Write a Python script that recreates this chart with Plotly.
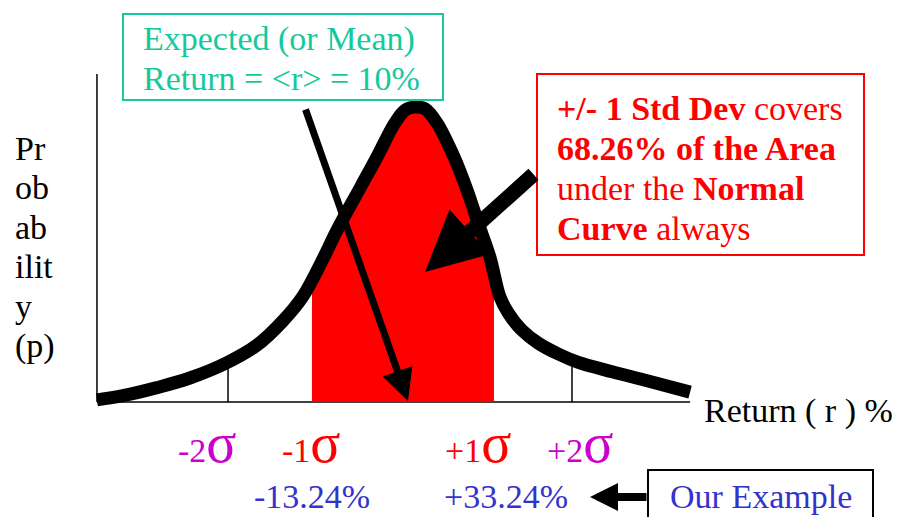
import plotly.graph_objects as go

# hand-drawn curve (return in %, relative probability)
returns = [-71.9, -64.9, -55.7, -46.8, -36.8, -28.6, -21.6, -16.2, -10.8, -7.0, -0.5,
           3.8, 8.6, 11.4, 14.1, 16.8, 20.0, 24.6, 28.1, 31.1, 34.3, 37.0, 39.3,
           42.9, 47.4, 52.8, 58.2, 67.6, 76.8, 88.4]
prob = [0.007, 0.021, 0.048, 0.080, 0.131, 0.19, 0.271, 0.353, 0.477, 0.573, 0.72,
        0.817, 0.93, 0.973, 0.983, 0.977, 0.93, 0.817, 0.707, 0.597, 0.483, 0.351, 0.296,
        0.24, 0.196, 0.16, 0.132, 0.10, 0.071, 0.033]

# red area, +/- 1 std dev
shade_x = [-13.8, -10.8, -7.0, -0.5, 3.8, 8.6, 11.4, 14.1, 16.8, 20.0, 24.6, 28.1, 31.1, 34.3, 35.4]
shade_y = [0.44, 0.477, 0.573, 0.72, 0.817, 0.93, 0.973, 0.983, 0.977, 0.93, 0.817, 0.707, 0.597, 0.483, 0.43]

mean_ret = 10
std_dev = 23.24
sigma_labels = ['-2', '-1', '+1', '+2']
sigma_x = [-36.48, -13.24, 33.24, 56.48]
sigma_colors = ['#CC00CC', '#FF0000', '#FF0000', '#CC00CC']
sigma_shift = [-21, -3, -8, 8]
tick_x = [-36.48, 56.48]
tick_top = [0.12, 0.13]
example_labels = ['-13.24%', '+33.24%']
example_x = [-13.24, 33.24]
example_shift = [-2, 20]

TEAL = '#14C99C'
RED = '#FF0000'
BLUE = '#3333CC'
FONT = 'Liberation Serif, Times New Roman, serif'

# plot area in pixels
L, T, W, H = 80, 60, 640, 360
x_lo, x_hi = mean_ret - (400 - L) / 3.7, mean_ret + (L + W - 400) / 3.7
y_lo, y_hi = -(T + H - 402) / 300, (402 - T) / 300
axis_left, axis_right, axis_top = -71.9, 88.4, 1.093


def px(x):
    return (x - L) / W


def py(y):
    return (T + H - y) / H


fig = go.Figure()

fig.add_trace(go.Scatter(x=shade_x, y=shade_y, mode='lines', line=dict(width=0, shape='spline'),
                         fill='tozeroy', fillcolor=RED, hoverinfo='skip'))
for tx, ty in zip(tick_x, tick_top):
    fig.add_trace(go.Scatter(x=[tx, tx], y=[0, ty], mode='lines', line=dict(color='black', width=1.5)))
fig.add_trace(go.Scatter(x=returns, y=prob, mode='lines',
                         line=dict(color='black', width=13, shape='spline', smoothing=1)))

# axes
fig.add_shape(type='line', x0=axis_left, x1=axis_left, y0=0, y1=axis_top, layer='below',
              line=dict(color='black', width=1.5))
fig.add_shape(type='line', x0=axis_left, x1=axis_right, y0=0, y1=0, layer='below',
              line=dict(color='black', width=1.5))


def add_text(text, x, baseline, color='black', size=34, anchor='left', xref='paper', xshift=0, box=None):
    box = box or size
    fig.add_annotation(text=text, x=px(x) if xref == 'paper' else x, xref=xref,
                       y=py(baseline - 0.3375 * box), yref='paper', xanchor=anchor, yanchor='middle',
                       showarrow=False, borderpad=0, borderwidth=0, xshift=xshift,
                       font=dict(family=FONT, size=size, color=color))


# y axis title
for word, b in zip(['Pr', 'ob', 'ab', 'ilit', 'y', '(p)'], [160, 199, 239, 278, 318, 357]):
    add_text(word, 15, b)
add_text('Return ( r ) %', 704, 422)

# sigma labels and our example
for lab, sx, col, sh in zip(sigma_labels, sigma_x, sigma_colors, sigma_shift):
    add_text(lab + '<span style="font-size:56px">σ</span>', sx, 462, color=col, anchor='center',
             xref='x', xshift=sh, box=56)
for lab, ex, sh in zip(example_labels, example_x, example_shift):
    add_text(lab, ex, 508, color=BLUE, anchor='center', xref='x', xshift=sh)

# text boxes
add_text('Expected (or Mean)', 143, 50, color=TEAL)
add_text('Return = &lt;r&gt; = 10%', 143, 90, color=TEAL)
fig.add_shape(type='rect', xref='paper', yref='paper', x0=px(123), x1=px(443), y0=py(14), y1=py(100),
              line=dict(color=TEAL, width=2))

add_text('<b>+/- 1 Std Dev</b> covers', 557, 120, color=RED)
add_text('<b>68.26% of the Area</b>', 557, 160, color=RED)
add_text('under the <b>Normal</b>', 557, 200, color=RED)
add_text('<b>Curve</b> always', 557, 240, color=RED)
fig.add_shape(type='rect', xref='paper', yref='paper', x0=px(537), x1=px(864), y0=py(74), y1=py(255),
              line=dict(color=RED, width=2))

add_text('Our Example', 761, 508, color=BLUE, anchor='center')
fig.add_shape(type='rect', xref='paper', yref='paper', x0=px(648), x1=px(873), y0=py(470), y1=py(530),
              line=dict(color='black', width=2))

# arrows
for tip, tail, w, s in [((408, 401), (305, 108), 7, 0.9), ((425, 272), (535, 173), 15, 0.8),
                        ((590, 497), (648, 497), 8, 0.7)]:
    fig.add_annotation(x=px(tip[0]), y=py(tip[1]), xref='paper', yref='paper', text='',
                       showarrow=True, arrowhead=2, arrowsize=s, arrowwidth=w, arrowcolor='black',
                       ax=tail[0] - tip[0], ay=tail[1] - tip[1], standoff=0)

fig.update_xaxes(visible=False, range=[x_lo, x_hi])
fig.update_yaxes(visible=False, range=[y_lo, y_hi])
fig.update_layout(width=898, height=517, showlegend=False, plot_bgcolor='white', paper_bgcolor='white',
                  margin=dict(l=L, r=898 - L - W, t=T, b=517 - T - H))

# page body has an 8px default margin; remove it so the figure fills the window
fig.write_html("out.html", config={'displayModeBar': False},
               post_script="document.body.style.margin='0px';")
